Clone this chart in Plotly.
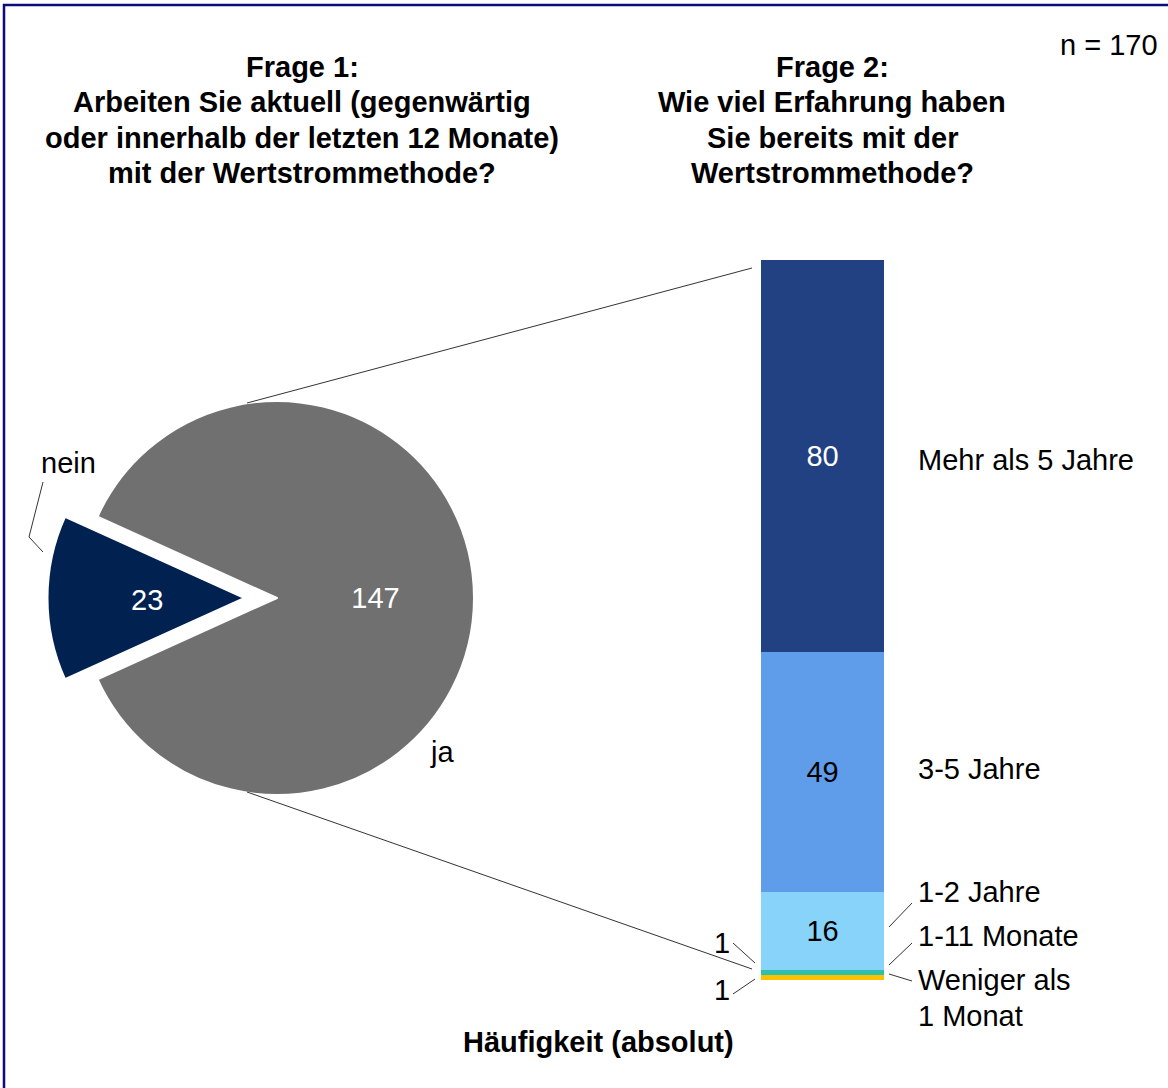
import plotly.graph_objects as go

W, H = 1168, 1088

# ---------------- data ----------------
pie_labels = ["nein", "ja"]
pie_values = [23, 147]
pie_colors = ["#012150", "#707070"]

bar_labels = ["Weniger als<br>1 Monat", "1-11 Monate", "1-2 Jahre", "3-5 Jahre", "Mehr als 5 Jahre"]
bar_values = [1, 1, 16, 49, 80]
bar_colors = ["#FFC000", "#2EC0AF", "#87D3F9", "#5F9CEA", "#214182"]
bar_text_colors = ["black", "black", "black", "black", "white"]
bar_show_text = [False, False, True, True, True]

title1_lines = ["Frage 1:", "Arbeiten Sie aktuell (gegenwärtig",
                "oder innerhalb der letzten 12 Monate)", "mit der Wertstrommethode?"]
title2_lines = ["Frage 2:", "Wie viel Erfahrung haben", "Sie bereits mit der", "Wertstrommethode?"]
n_text = "n = 170"
x_title = "Häufigkeit (absolut)"

FONT = "Liberation Sans, Arial, sans-serif"
FS = 29


def px(x, y):
    return x / W, 1 - y / H


fig = go.Figure()

# ---------------- pie ----------------
pull = 0.165
r_px = 197
cx, cy = 277, 598
half = r_px * (1 + pull)
x0, y1 = px(cx - half, cy - half)
x1, y0 = px(cx + half, cy + half)
rot = 270 - 360 * pie_values[0] / sum(pie_values) / 2

fig.add_trace(go.Pie(
    labels=pie_labels, values=pie_values, sort=False,
    direction="clockwise", rotation=rot,
    pull=[pull, 0],
    marker=dict(colors=pie_colors, line=dict(color="white", width=2)),
    texttemplate=["", "%{value}"], textposition="inside",
    insidetextfont=dict(color="white", size=FS, family=FONT),
    domain=dict(x=[x0, x1], y=[y0, y1]),
    showlegend=False, hoverinfo="label+value",
))

# ---------------- stacked bar ----------------
for lab, v, c, tc, show in zip(bar_labels, bar_values, bar_colors, bar_text_colors, bar_show_text):
    fig.add_trace(go.Bar(
        x=[0], y=[v], width=1, name=lab.replace("<br>", " "),
        marker=dict(color=c, line=dict(width=0)),
        text=[str(v)] if show else [""],
        textposition="inside", insidetextanchor="middle",
        textfont=dict(color=tc, size=FS, family=FONT),
        cliponaxis=False, showlegend=False,
        xaxis="x", yaxis="y",
    ))

bx0, by_bottom = px(700, 980)
bx1, by_top = px(945, 260)
fig.update_layout(
    barmode="stack",
    xaxis=dict(domain=[bx0, bx1], range=[-1, 1], visible=False, fixedrange=True),
    yaxis=dict(domain=[by_bottom, by_top], range=[0, sum(bar_values)], visible=False, fixedrange=True),
)

# ---------------- annotations ----------------
ann = []


def text(x, y, t, xanchor="center", yanchor="middle", align="center", size=FS, color="black", bold=False):
    ax, ay = px(x, y)
    if bold:
        t = "<b>" + t + "</b>"
    ann.append(dict(x=ax, y=ay, xref="paper", yref="paper", text=t, showarrow=False,
                    xanchor=xanchor, yanchor=yanchor, align=align,
                    font=dict(size=size, family=FONT, color=color)))


for i, ln in enumerate(title1_lines):
    text(302, 67 + 35.3 * i, ln, bold=True)
for i, ln in enumerate(title2_lines):
    text(832, 67 + 35.3 * i, ln, bold=True)
text(1160, 45, n_text, xanchor="right")
text(598, 1042, x_title, bold=True)
text(68, 463, pie_labels[0])
text(442, 752, pie_labels[1])
text(147, 600, str(pie_values[0]), color="white")

# bar category labels (right side)
LX = 916
text(LX, 460, bar_labels[4], xanchor="left")
text(LX, 769, bar_labels[3], xanchor="left")
text(LX, 892, bar_labels[2], xanchor="left")
text(LX, 936, bar_labels[1], xanchor="left")
for i, ln in enumerate(bar_labels[0].split("<br>")):
    text(LX, 980 + 36 * i, ln, xanchor="left")
# small values to the left
text(722, 943, str(bar_values[1]))
text(722, 990, str(bar_values[0]))

fig.update_layout(annotations=ann)

# ---------------- lines ----------------
shapes = []


def line(xa, ya, xb, yb, color="#333333", width=1):
    p0 = px(xa, ya)
    p1 = px(xb, yb)
    shapes.append(dict(type="line", xref="paper", yref="paper",
                       x0=p0[0], y0=p0[1], x1=p1[0], y1=p1[1],
                       line=dict(color=color, width=width)))


# series lines pie -> bar
line(247, 403, 752, 268)
line(247, 792, 752, 969)
# nein leader
line(43, 482, 29, 537)
line(29, 537, 43, 552)
# small value leaders
line(733, 943, 755, 963)
line(733, 994, 755, 979)
# right label leaders
line(889, 927, 912, 903)
line(889, 965, 912, 943)
line(889, 974, 912, 981)

# outer border (left and top visible)
bl, bt = px(4, 5)
shapes.append(dict(type="rect", xref="paper", yref="paper",
                   x0=bl, y0=-0.05, x1=1.05, y1=bt,
                   line=dict(color="#0B0B7A", width=2.5)))

fig.update_layout(shapes=shapes)

fig.update_layout(
    width=W, height=H,
    margin=dict(l=0, r=0, t=0, b=0),
    paper_bgcolor="white", plot_bgcolor="white",
    font=dict(family=FONT, size=FS, color="black"),
)

fig.write_html("out.html", config={"displayModeBar": False},
               post_script="document.body.style.margin='0';")
